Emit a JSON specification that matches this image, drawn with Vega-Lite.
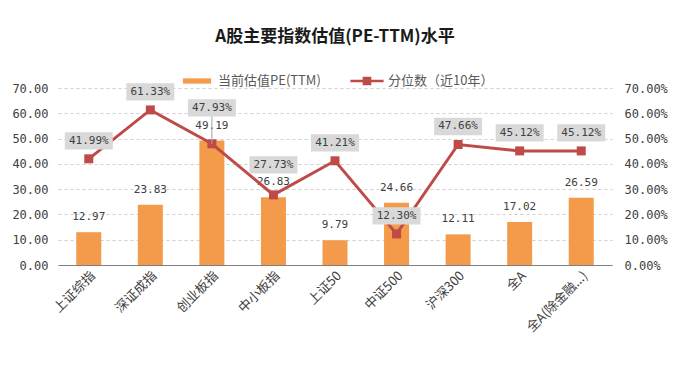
{
  "$schema": "https://vega.github.io/schema/vega-lite/v6.json",
  "width": 554,
  "height": 177,
  "autosize": "none",
  "padding": {"left": 58, "top": 88, "right": 67, "bottom": 102},
  "background": "white",
  "title": {"text": "A股主要指数估值(PE-TTM)水平", "fontSize": 17, "font": "Noto Sans CJK SC", "fontWeight": "bold", "color": "#1a1a1a", "offset": 18, "anchor": "middle"},
  "data": {"values": [
    {"cat": "上证综指", "pe": 12.97, "pct": 0.4199},
    {"cat": "深证成指", "pe": 23.83, "pct": 0.6133},
    {"cat": "创业板指", "pe": 49.19, "pct": 0.4793},
    {"cat": "中小板指", "pe": 26.83, "pct": 0.2773},
    {"cat": "上证50", "pe": 9.79, "pct": 0.4121},
    {"cat": "中证500", "pe": 24.66, "pct": 0.1230},
    {"cat": "沪深300", "pe": 12.11, "pct": 0.4766},
    {"cat": "全A", "pe": 17.02, "pct": 0.4512},
    {"cat": "全A(除金融...)", "pe": 26.59, "pct": 0.4512}
  ]},
  "encoding": {
    "x": {"field": "cat", "type": "nominal", "sort": null,
      "scale": {"paddingInner": 0, "paddingOuter": 0},
      "axis": {"title": null, "labelAngle": -45, "labelFont": "Noto Sans CJK SC", "labelFontSize": 13, "labelColor": "#404040", "domainColor": "#808080", "domainWidth": 1.2, "ticks": false, "labelPadding": 4, "grid": false}}
  },
  "layer": [
    {
      "encoding": {"y": {"field": "pe", "type": "quantitative", "scale": {"domain": [0, 70]},
        "axis": {"orient": "left", "title": null, "values": [0,10,20,30,40,50,60,70], "format": ".2f", "grid": true, "gridDash": [3,3], "gridColor": "#cfcfcf", "domain": false, "ticks": false, "labelFont": "DejaVu Sans Mono", "labelFontSize": 12, "labelColor": "#404040", "labelPadding": 10}}},
      "layer": [
        {"mark": {"type": "bar", "size": 25}, "encoding": {"color": {"datum": "当前估值PE(TTM)", "type": "nominal",
          "legend": {"orient": "none", "legendX": 122, "legendY": -24, "direction": "horizontal", "title": null,
            "labelFont": "Noto Sans CJK SC", "labelFontSize": 13, "labelColor": "#595959", "symbolSize": 1100, "columnPadding": 29, "labelOffset": 4,
            "encode": {"symbols": {"update": {
              "shape": {"signal": "datum.value === '当前估值PE(TTM)' ? 'M-0.85,-0.16H0.85V0.16H-0.85Z' : 'M-1,-0.07H1V0.07H-1Z M-0.26,-0.26H0.26V0.26H-0.26Z'"},
              "fill": {"signal": "datum.value === '当前估值PE(TTM)' ? '#F39B4A' : '#BE4B48'"},
              "stroke": {"value": "transparent"},
              "strokeWidth": {"value": 0},
              "opacity": {"value": 1},
              "fillOpacity": {"value": 1}
            }}}}}}},
        {"mark": {"type": "text", "dy": -15, "baseline": "middle", "font": "DejaVu Sans Mono", "fontSize": 11, "color": "#404040"}, "encoding": {"text": {"field": "pe", "type": "quantitative", "format": ".2f"}}}
      ]
    },
    {
      "encoding": {"y": {"field": "pct", "type": "quantitative", "scale": {"domain": [0, 0.7]},
        "axis": {"orient": "right", "title": null, "values": [0,0.1,0.2,0.3,0.4,0.5,0.6,0.7], "format": ".2%", "grid": false, "domain": false, "ticks": false, "labelFont": "DejaVu Sans Mono", "labelFontSize": 12, "labelColor": "#404040", "labelPadding": 12}}},
      "layer": [
        {"mark": {"type": "line", "strokeWidth": 3}, "encoding": {"color": {"datum": "分位数（近10年）", "type": "nominal"}}},
        {"mark": {"type": "point", "shape": "square", "filled": true, "size": 81, "opacity": 1}, "encoding": {"color": {"datum": "分位数（近10年）", "type": "nominal"}}},
        {"transform": [{"filter": "datum.cat !== '创业板指' && datum.cat !== '中小板指'"}],
          "layer": [
            {"mark": {"type": "point", "shape": "M-1,-0.36H1V0.36H-1Z", "size": 2304, "filled": true, "color": "#d9d9d9", "opacity": 1, "yOffset": -18}},
            {"mark": {"type": "text", "dy": -18, "baseline": "middle", "font": "DejaVu Sans Mono", "fontSize": 11, "color": "#404040"}, "encoding": {"text": {"field": "pct", "type": "quantitative", "format": ".2%"}}}
          ]},
        {"transform": [{"filter": "datum.cat === '创业板指'"}],
          "layer": [
            {"mark": {"type": "rule", "color": "#a6a6a6", "strokeWidth": 1, "y2Offset": -28}, "encoding": {"y2": {"field": "pct"}}},
            {"mark": {"type": "point", "shape": "M-1,-0.36H1V0.36H-1Z", "size": 2304, "filled": true, "color": "#d9d9d9", "opacity": 1, "yOffset": -36}},
            {"mark": {"type": "text", "dy": -36, "baseline": "middle", "font": "DejaVu Sans Mono", "fontSize": 11, "color": "#404040"}, "encoding": {"text": {"field": "pct", "type": "quantitative", "format": ".2%"}}}
          ]},
        {"transform": [{"filter": "datum.cat === '中小板指'"}],
          "layer": [
            {"mark": {"type": "point", "shape": "M-1,-0.36H1V0.36H-1Z", "size": 2304, "filled": true, "color": "#d9d9d9", "opacity": 1, "yOffset": -30}},
            {"mark": {"type": "text", "dy": -30, "baseline": "middle", "font": "DejaVu Sans Mono", "fontSize": 11, "color": "#404040"}, "encoding": {"text": {"field": "pct", "type": "quantitative", "format": ".2%"}}}
          ]}
      ]
    }
  ],
  "resolve": {"scale": {"y": "independent"}},
  "config": {
    "view": {"stroke": null},
    "range": {"category": ["#F39B4A", "#BE4B48"]}
  }
}
